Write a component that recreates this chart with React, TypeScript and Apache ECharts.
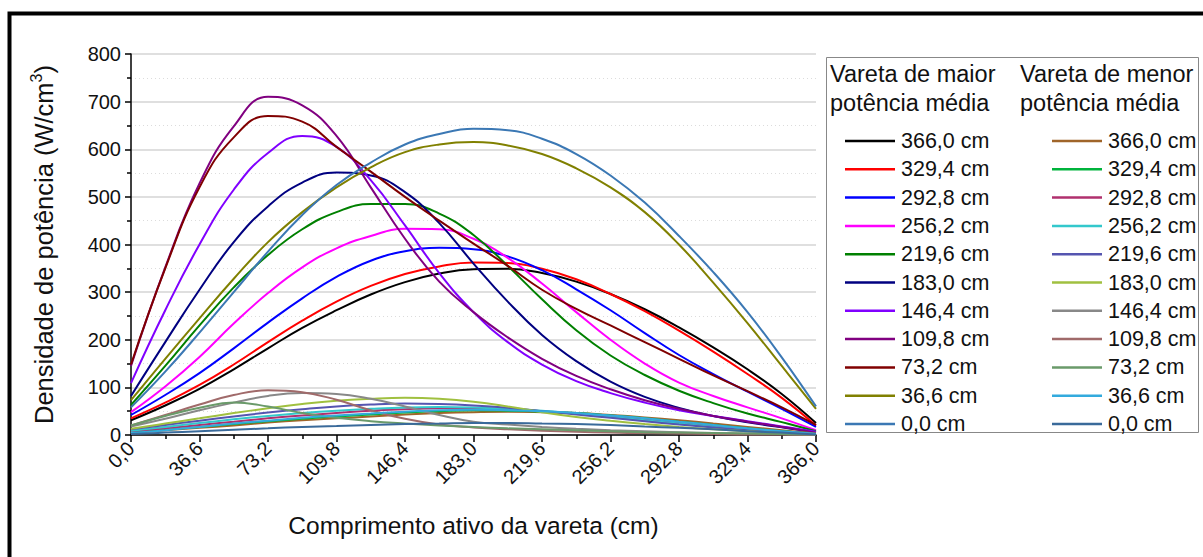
import React, { useEffect, useRef } from "react";
import * as echarts from "echarts";

// Axial positions along the active length (cm)
const positions = [0, 18.3, 36.6, 54.9, 73.2, 91.5, 109.8, 128.1, 146.4, 164.7, 183, 201.3, 219.6, 237.9, 256.2, 274.5, 292.8, 311.1, 329.4, 347.7, 366];

// Control rod insertion depth labels
const rodLabels = ["366,0 cm", "329,4 cm", "292,8 cm", "256,2 cm", "219,6 cm", "183,0 cm", "146,4 cm", "109,8 cm", "73,2 cm", "36,6 cm", "0,0 cm"];

// Highest average power rod (W/cm3)
const maior366 = [31, 62, 97, 138, 182, 225, 262, 295, 321, 339, 348, 349, 340, 322, 296, 264, 226, 184, 138, 86, 25];
const maior329 = [35, 68, 105, 148, 195, 240, 280, 313, 338, 354, 362, 361, 349, 327, 296, 260, 219, 175, 128, 78, 20];
const maior292 = [42, 84, 130, 182, 236, 287, 332, 366, 386, 393, 390, 375, 346, 306, 262, 214, 168, 128, 91, 55, 17];
const maior256 = [48, 102, 164, 234, 298, 352, 392, 418, 433, 432, 412, 372, 318, 258, 200, 150, 110, 82, 58, 35, 10];
const maior219 = [63, 145, 230, 310, 378, 432, 468, 485, 485, 465, 420, 355, 285, 220, 167, 126, 93, 67, 45, 27, 8];
const maior183 = [82, 195, 305, 405, 480, 530, 551, 545, 510, 445, 360, 280, 210, 155, 112, 80, 57, 40, 27, 16, 6];
const maior146 = [109, 262, 400, 515, 592, 628, 605, 535, 440, 340, 258, 195, 148, 113, 88, 68, 52, 40, 29, 18, 7];
const maior109 = [145, 352, 528, 648, 710, 692, 628, 520, 412, 322, 258, 205, 160, 124, 96, 73, 55, 40, 28, 17, 5];
const maior73 = [148, 350, 520, 625, 670, 658, 605, 553, 500, 450, 402, 355, 305, 265, 230, 195, 160, 125, 92, 58, 21];
const maior36 = [73, 160, 245, 328, 405, 468, 520, 562, 594, 610, 615, 608, 590, 560, 520, 468, 400, 320, 235, 145, 55];
const maior0 = [58, 133, 215, 300, 385, 462, 525, 572, 610, 632, 643, 640, 622, 590, 545, 488, 418, 342, 258, 163, 60];

// Lowest average power rod (W/cm3)
const menor366 = [5, 10, 15, 20, 26, 31, 35, 39, 43, 46, 48, 49, 48, 46, 42, 37, 31, 24, 17, 10, 3];
const menor329 = [6, 11, 17, 23, 29, 34, 39, 43, 47, 50, 52, 51, 49, 46, 41, 35, 28, 21, 14, 8, 3];
const menor292 = [8, 14, 21, 28, 35, 41, 46, 51, 54, 56, 56, 54, 50, 45, 39, 32, 25, 18, 12, 7, 3];
const menor256 = [9, 17, 25, 33, 40, 46, 51, 55, 58, 59, 58, 55, 51, 45, 38, 31, 24, 17, 11, 6, 2];
const menor219 = [12, 21, 30, 39, 47, 54, 60, 64, 66, 65, 62, 57, 50, 43, 36, 29, 22, 16, 10, 6, 2];
const menor183 = [13, 24, 35, 46, 56, 65, 72, 76, 78, 76, 70, 60, 48, 38, 30, 23, 17, 12, 8, 5, 2];
const menor146 = [18, 34, 52, 68, 82, 88, 86, 76, 60, 42, 28, 22, 17, 13, 10, 8, 6, 4, 3, 2, 1];
const menor109 = [20, 42, 64, 84, 94, 90, 74, 52, 34, 22, 16, 12, 9, 7, 5, 4, 3, 2, 1, 1, 0];
const menor73 = [20, 40, 57, 68, 60, 46, 36, 29, 24, 20, 17, 14, 12, 10, 8, 6, 5, 4, 3, 2, 1];
const menor36 = [4, 10, 17, 24, 30, 36, 41, 45, 49, 52, 53, 52, 50, 46, 41, 35, 28, 21, 14, 8, 2];
const menor0 = [2, 5, 8, 11, 14, 17, 19, 21, 23, 24, 25, 25, 24, 23, 21, 18, 15, 12, 8, 5, 1];

const maiorValues = [maior366, maior329, maior292, maior256, maior219, maior183, maior146, maior109, maior73, maior36, maior0];
const menorValues = [menor366, menor329, menor292, menor256, menor219, menor183, menor146, menor109, menor73, menor36, menor0];

const maiorColors = ["#000000", "#ff0000", "#0000ff", "#ff00ff", "#008000", "#000080", "#8000ff", "#800080", "#800000", "#808000", "#3b78b4"];
const menorColors = ["#a0652a", "#00b33c", "#b0306e", "#33c8cc", "#5555b0", "#a0c040", "#888888", "#a06a6a", "#6a9a6a", "#33aadd", "#3a6a9a"];

const FONT = '"Liberation Sans", Arial, sans-serif';

function buildSeries(group: string, values: number[][], colors: string[]) {
  return values.map((vals, i) => ({
    name: group + "|" + rodLabels[i],
    type: "line",
    smooth: 0.45,
    symbol: "none",
    data: vals.map((v, j) => [positions[j], v]),
    lineStyle: { width: 2, color: colors[i] },
    itemStyle: { color: colors[i] },
    z: 2,
  }));
}

function legendFor(group: string, left: number) {
  return {
    show: true,
    orient: "vertical",
    left,
    top: 125,
    itemWidth: 50,
    itemHeight: 2.5,
    itemGap: 6.3,
    icon: "rect",
    selectedMode: false,
    data: rodLabels.map((l) => group + "|" + l),
    formatter: (n: string) => n.split("|")[1],
    textStyle: { fontSize: 21.5, lineHeight: 22, color: "#111", fontFamily: FONT, padding: [0, 0, 0, 1] },
  };
}

export default function App() {
  const ref = useRef<HTMLDivElement>(null);
  useEffect(() => {
    if (!ref.current) return;
    const chart = echarts.init(ref.current, undefined, { renderer: "svg" });
    chart.setOption({
      animation: false,
      backgroundColor: "#ffffff",
      textStyle: { fontFamily: FONT },
      grid: { left: 131, top: 54, right: 387, bottom: 122 },
      xAxis: {
        type: "value",
        min: 0,
        max: 366,
        interval: 36.6,
        name: "Comprimento ativo da vareta (cm)",
        nameLocation: "middle",
        nameGap: 78,
        nameTextStyle: { fontSize: 24.5, color: "#111", fontFamily: FONT },
        axisLine: { show: true, onZero: false, lineStyle: { color: "#000", width: 1.5 } },
        axisTick: { show: true, length: 7, lineStyle: { color: "#000", width: 1.5 } },
        minorTick: { show: true, splitNumber: 2, length: 4, lineStyle: { color: "#000", width: 1.5 } },
        axisLabel: {
          rotate: 45,
          fontSize: 20,
          color: "#111",
          margin: 10,
          fontFamily: FONT,
          formatter: (v: number) => v.toFixed(1).replace(".", ","),
        },
        splitLine: { show: false },
      },
      yAxis: {
        type: "value",
        min: 0,
        max: 800,
        interval: 100,
        name: "{a|Densidade de potência (W/cm}{s|3}{a|)}",
        nameLocation: "middle",
        nameGap: 71,
        nameTextStyle: {
          color: "#111",
          fontFamily: FONT,
          rich: {
            a: { fontSize: 25.5, lineHeight: 32, color: "#111", fontFamily: FONT },
            s: { fontSize: 16, verticalAlign: "top", color: "#111", fontFamily: FONT },
          },
        },
        axisLine: { show: true, lineStyle: { color: "#000", width: 1.5 } },
        axisTick: { show: true, length: 6, lineStyle: { color: "#000", width: 1.5 } },
        minorTick: { show: true, splitNumber: 2, length: 4, lineStyle: { color: "#000", width: 1.5 } },
        axisLabel: { fontSize: 20, color: "#111", margin: 10, fontFamily: FONT },
        splitLine: { show: true, lineStyle: { color: "#d4d4d4", width: 1.5 } },
        minorSplitLine: { show: true, lineStyle: { color: "#dcdcdc", width: 1, type: [1, 3] } },
      },
      legend: [legendFor("maior", 840), legendFor("menor", 1047)],
      graphic: [
        {
          type: "rect",
          shape: { x: 9.5, y: 13.5, width: 1210, height: 600 },
          style: { fill: "none", stroke: "#000", lineWidth: 4 },
          silent: true,
        },
        {
          type: "rect",
          shape: { x: 826.5, y: 57.5, width: 372, height: 375 },
          style: { fill: "none", stroke: "#888", lineWidth: 1 },
          silent: true,
        },
        {
          type: "text",
          left: 830,
          top: 59,
          style: { text: "Vareta de maior\npotência média", fontSize: 23.5, lineHeight: 29, fill: "#111", fontFamily: FONT },
        },
        {
          type: "text",
          left: 1020,
          top: 59,
          style: { text: "Vareta de menor\npotência média", fontSize: 23.5, lineHeight: 29, fill: "#111", fontFamily: FONT },
        },
      ],
      series: [...buildSeries("maior", maiorValues, maiorColors), ...buildSeries("menor", menorValues, menorColors)],
    });
    return () => chart.dispose();
  }, []);
  return <div ref={ref} style={{ position: "fixed", left: 0, top: 0, width: 1203, height: 557 }} />;
}
